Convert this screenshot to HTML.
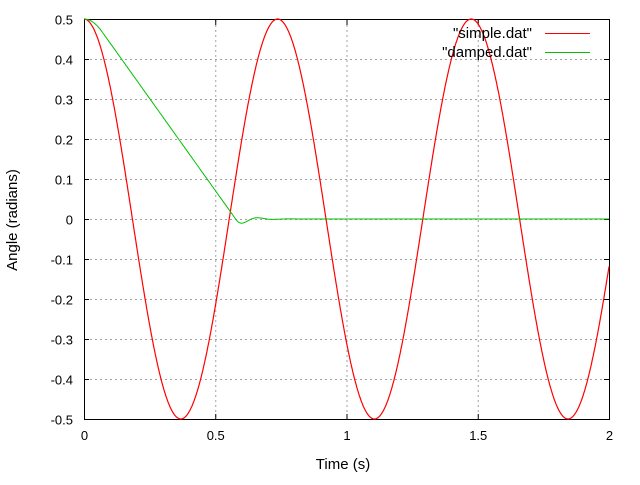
<!DOCTYPE html>
<html><head><meta charset="utf-8"><style>
body{margin:0;background:#fff;}
svg text{font-family:"Liberation Sans",sans-serif;font-size:13px;fill:#000;}
svg text.big{font-size:15px;}
</style></head><body>
<svg id="s" width="640" height="480" xmlns="http://www.w3.org/2000/svg">
<g id="grid" stroke="#a0a0a0" stroke-dasharray="2,3" stroke-width="1"></g>
<g id="ticks" stroke="#000" stroke-width="1"></g>
<g id="labels"></g>
<rect x="84.5" y="19.5" width="525" height="400" fill="none" stroke="#000"/>
<text class="big" x="343" y="469" text-anchor="middle">Time (s)</text>
<text class="big" transform="translate(17,220) rotate(-90)" text-anchor="middle">Angle (radians)</text>
<polyline id="p1" fill="none" stroke="#f00" stroke-width="1.2"/>
<polyline id="p2" fill="none" stroke="#00c000" stroke-width="1"/>
<text class="big" x="532" y="38" text-anchor="end">"simple.dat"</text>
<text class="big" x="532" y="57" text-anchor="end">"damped.dat"</text>
<line x1="545" y1="33.5" x2="590" y2="33.5" stroke="#f00"/>
<line x1="545" y1="52.5" x2="590" y2="52.5" stroke="#00c000"/>
</svg>
<script>
var X=t=>84+t*262.5, Y=v=>219-v*400, ns="http://www.w3.org/2000/svg";
function el(p,n,a,txt){var e=document.createElementNS(ns,n);for(var k in a)e.setAttribute(k,a[k]);if(txt!=null)e.textContent=txt;document.getElementById(p).appendChild(e);}
for(var i=0;i<=4;i++){var x=X(i*0.5)+0.5;
 if(i>0&&i<4)el("grid","line",{x1:x,y1:20,x2:x,y2:419});
 el("ticks","line",{x1:x,y1:419,x2:x,y2:414});el("ticks","line",{x1:x,y1:20,x2:x,y2:25});
 el("labels","text",{x:x,y:440,"text-anchor":"middle"},["0","0.5","1","1.5","2"][i]);}
for(var j=0;j<=10;j++){var v=-0.5+j*0.1,y=Math.round(Y(v))+0.5;
 if(j>0&&j<10)el("grid","line",{x1:85,y1:y,x2:609,y2:y});
 el("ticks","line",{x1:84,y1:y,x2:89,y2:y});el("ticks","line",{x1:609,y1:y,x2:604,y2:y});
 var s=Math.abs(v)<1e-9?"0":v.toFixed(1);
 el("labels","text",{x:73,y:y+5,"text-anchor":"end"},s);}
var a=[],b=[];
for(var t=0;t<=2.0001;t+=0.004){
 a.push(X(t).toFixed(1)+","+Y(0.5*Math.cos(2*Math.PI*t/0.7375)).toFixed(1));
 var v;
 if(t<0.068)v=0.5-6.76*t*t;
 else if(t<0.577)v=0.5-0.92*(t-0.034);
 else {var u=t-0.577;v=-0.0177*Math.sin(52*u)*Math.exp(-20*u);}
 b.push(X(t).toFixed(1)+","+Y(v).toFixed(1));}
document.getElementById("p1").setAttribute("points",a.join(" "));
document.getElementById("p2").setAttribute("points",b.join(" "));
</script>
</body></html>
